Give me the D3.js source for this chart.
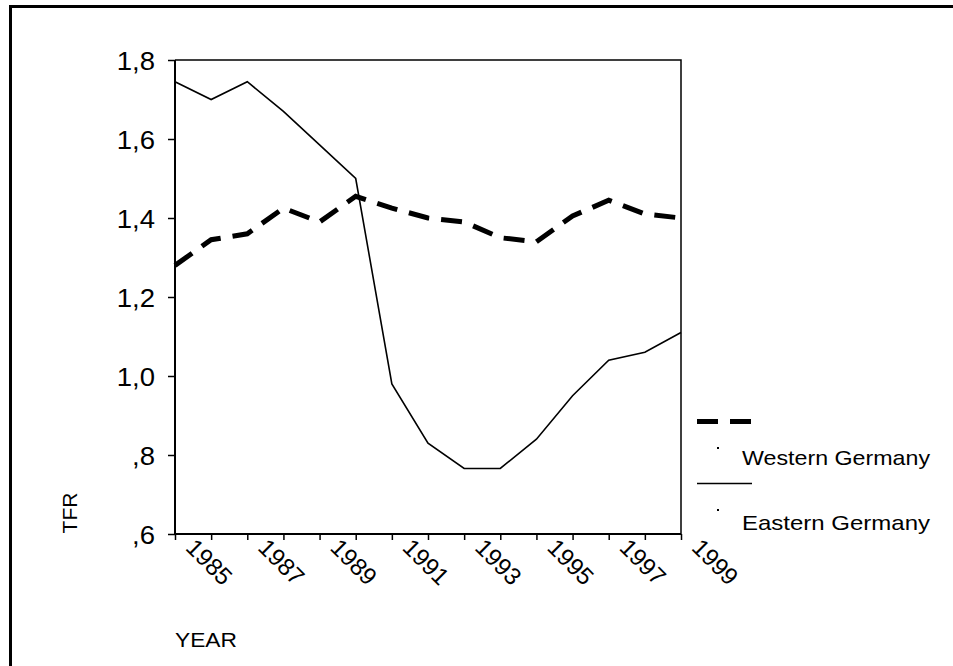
<!DOCTYPE html>
<html>
<head>
<meta charset="utf-8">
<script src="https://cdn.jsdelivr.net/npm/d3@7"></script>
<style>
  body { margin: 0; background: #fff; }
  svg text { font-family: "Liberation Sans", Arial, sans-serif; fill: #000; }
</style>
</head>
<body>
<svg id="chart" width="953" height="666"></svg>
<script>
// data
const years = [1985, 1986, 1987, 1988, 1989, 1990, 1991, 1992, 1993, 1994, 1995, 1996, 1997, 1998, 1999];
const western = [1.28, 1.345, 1.36, 1.425, 1.39, 1.455, 1.425, 1.40, 1.39, 1.35, 1.34, 1.405, 1.445, 1.41, 1.40];
const eastern = [1.745, 1.70, 1.745, 1.67, 1.585, 1.50, 0.98, 0.83, 0.766, 0.766, 0.84, 0.95, 1.04, 1.06, 1.11];
const yTicks = [0.6, 0.8, 1.0, 1.2, 1.4, 1.6, 1.8];
const yTickLabels = [",6", ",8", "1,0", "1,2", "1,4", "1,6", "1,8"];
const xTickLabels = ["1985", "", "1987", "", "1989", "", "1991", "", "1993", "", "1995", "", "1997", "", "1999"];
const seriesNames = ["Western Germany", "Eastern Germany"];

const svg = d3.select("#chart");

const margin = { top: 60, right: 272, bottom: 132, left: 175 };
const width = 953 - margin.left - margin.right;
const height = 666 - margin.top - margin.bottom;

// outer frame (only top and left visible)
svg.append("path")
    .attr("d", "M10.5,666 L10.5,6.5 L953,6.5")
    .attr("fill", "none")
    .attr("stroke", "#000")
    .attr("stroke-width", 3);

const g = svg.append("g").attr("transform", `translate(${margin.left},${margin.top})`);

const x = d3.scaleLinear().domain([1985, 1999]).range([0, width]);
const y = d3.scaleLinear().domain([0.6, 1.8]).range([height, 0]);

// box top + right
g.append("path")
    .attr("d", `M0,${y(1.8)} H${width} V${height}`)
    .attr("fill", "none")
    .attr("stroke", "#000")
    .attr("stroke-width", 1.5);

// y axis
const yAxis = g.append("g")
    .call(d3.axisLeft(y).tickValues(yTicks).tickSize(7).tickPadding(13)
        .tickFormat((d, i) => yTickLabels[i]));
yAxis.select(".domain").attr("stroke-width", 2).attr("d", `M0,${height}V0`);
yAxis.selectAll(".tick line").attr("stroke-width", 1.5);
yAxis.selectAll(".tick text")
    .attr("font-size", 25)
    .attr("dy", "0.36em")
    .attr("textLength", function() { return this.getComputedTextLength() * 1.1; })
    .attr("lengthAdjust", "spacingAndGlyphs");

// x axis
const xAxis = g.append("g")
    .attr("transform", `translate(0,${height})`)
    .call(d3.axisBottom(x).tickValues(years).tickSize(6)
        .tickFormat((d, i) => xTickLabels[i]));
xAxis.select(".domain").attr("stroke-width", 2).attr("d", `M0,0H${width}`);
xAxis.selectAll(".tick line").attr("stroke-width", 1.5);
xAxis.selectAll(".tick text")
    .attr("font-size", 24)
    .attr("text-anchor", "start")
    .attr("y", 0)
    .attr("dy", 0)
    .attr("transform", "translate(9,15) rotate(45)");

// lines
const line = d3.line()
    .x((d, i) => x(years[i]))
    .y(d => y(d));

g.append("path")
    .datum(eastern)
    .attr("d", line)
    .attr("fill", "none")
    .attr("stroke", "#000")
    .attr("stroke-width", 1.6);

g.append("path")
    .datum(western)
    .attr("d", line)
    .attr("fill", "none")
    .attr("stroke", "#000")
    .attr("stroke-width", 5)
    .attr("stroke-dasharray", "21,12");

// axis titles
svg.append("text")
    .attr("transform", "translate(77,513) rotate(-90)")
    .attr("text-anchor", "middle")
    .attr("font-size", 21)
    .text("TFR");

svg.append("text")
    .attr("x", 175)
    .attr("y", 647)
    .attr("font-size", 20)
    .attr("textLength", 62)
    .attr("lengthAdjust", "spacingAndGlyphs")
    .text("YEAR");

// legend
const legend = svg.append("g");
legend.append("line")
    .attr("x1", 697).attr("x2", 752).attr("y1", 421.5).attr("y2", 421.5)
    .attr("stroke", "#000").attr("stroke-width", 5)
    .attr("stroke-dasharray", "21,12");
legend.append("line")
    .attr("x1", 697).attr("x2", 752).attr("y1", 483.5).attr("y2", 483.5)
    .attr("stroke", "#000").attr("stroke-width", 1.6);
legend.selectAll("rect.dot")
    .data([447, 509])
    .enter().append("rect")
    .attr("class", "dot")
    .attr("x", 717).attr("y", d => d)
    .attr("width", 2).attr("height", 2)
    .attr("fill", "#000");
legend.selectAll("text")
    .data(seriesNames)
    .enter().append("text")
    .attr("x", 742)
    .attr("y", (d, i) => i === 0 ? 465 : 530)
    .attr("font-size", 21)
    .attr("textLength", 188)
    .attr("lengthAdjust", "spacingAndGlyphs")
    .text(d => d);
</script>
</body>
</html>
